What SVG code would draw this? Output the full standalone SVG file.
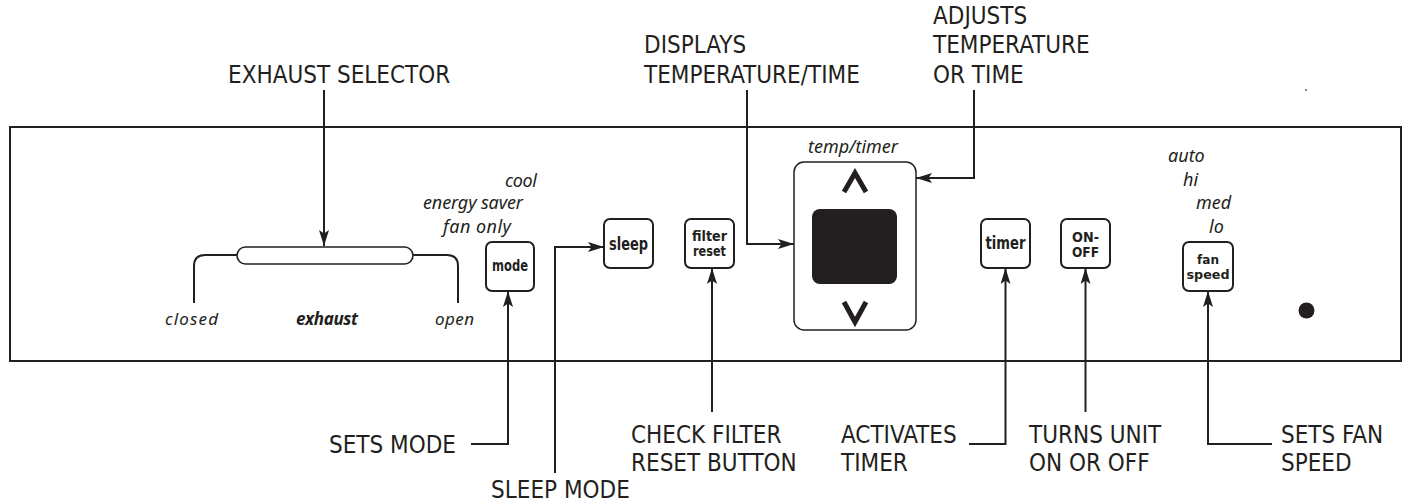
<svg xmlns="http://www.w3.org/2000/svg" width="1410" height="502" viewBox="0 0 1410 502">
<style>
.lbl{font-family:"DejaVu Sans Condensed","DejaVu Sans",sans-serif;font-size:24px;fill:#231f20}
.it{font-family:"Noto Sans","Open Sans",sans-serif;font-style:italic;fill:#231f20}
.btn{fill:#fff;stroke:#231f20;stroke-width:2}
.bt{font-family:"DejaVu Sans Condensed","DejaVu Sans",sans-serif;font-weight:bold;fill:#231f20;text-anchor:middle}
.ln{fill:none;stroke:#231f20;stroke-width:2}
.cn{fill:none;stroke:#231f20;stroke-width:2;marker-end:url(#ah)}
</style>
<defs>
<marker id="ah" viewBox="0 0 16 10" refX="16" refY="5" markerWidth="16" markerHeight="10" markerUnits="userSpaceOnUse" orient="auto">
<path d="M0,0 L16,5 L0,10 L3.5,5 z" fill="#231f20"/>
</marker>
</defs>
<rect width="1410" height="502" fill="#fff"/>
<g id="panel">
<rect x="10" y="127" width="1391" height="234" fill="none" stroke="#231f20" stroke-width="2"/>
<rect x="1305" y="89" width="2" height="2" fill="#888"/>
</g>
<g id="exhaust">
<rect x="237" y="247" width="176" height="17" rx="8.5" fill="#fff" stroke="#231f20" stroke-width="1.6"/>
<path class="ln" d="M237,255 H205 Q194,255 194,266 V303"/>
<path class="ln" d="M413,255 H447 Q458,255 458,266 V303"/>
<text class="it" x="165" y="325" font-size="17" textLength="53">closed</text>
<text class="it" x="296" y="325" font-size="17" font-weight="bold" textLength="62">exhaust</text>
<text class="it" x="435" y="325" font-size="17" textLength="39">open</text>
</g>
<g id="mode">
<text class="it" x="505" y="187" font-size="18" textLength="32">cool</text>
<text class="it" x="423" y="209" font-size="18" textLength="100">energy saver</text>
<text class="it" x="443" y="233" font-size="18" textLength="68">fan only</text>
<rect class="btn" x="486" y="242" width="48" height="49" rx="6"/>
<text class="bt" x="510" y="271" font-size="15" textLength="36" lengthAdjust="spacingAndGlyphs">mode</text>
</g>
<g id="sleep">
<rect class="btn" x="604" y="219" width="49" height="49" rx="6"/>
<text class="bt" x="628.5" y="249.5" font-size="17" textLength="39" lengthAdjust="spacingAndGlyphs">sleep</text>
</g>
<g id="filter">
<rect class="btn" x="685" y="219" width="49" height="49" rx="6"/>
<text class="bt" x="709.5" y="241" font-size="13.5" textLength="35" lengthAdjust="spacingAndGlyphs">filter</text>
<text class="bt" x="709.5" y="256" font-size="13.5" textLength="33" lengthAdjust="spacingAndGlyphs">reset</text>
</g>
<g id="display">
<text class="it" x="808" y="153" font-size="18" textLength="90">temp/timer</text>
<rect x="794" y="162" width="122" height="168" rx="10" fill="#fff" stroke="#231f20" stroke-width="1.5"/>
<rect x="812" y="209" width="85" height="75" rx="8" fill="#231f20"/>
<polyline points="844,192 855,173 866,192" fill="none" stroke="#231f20" stroke-width="5" stroke-linejoin="miter"/>
<polyline points="844,302 855,322 866,302" fill="none" stroke="#231f20" stroke-width="5" stroke-linejoin="miter"/>
</g>
<g id="timer">
<rect class="btn" x="981" y="219" width="49" height="49" rx="6"/>
<text class="bt" x="1005.5" y="249" font-size="17" textLength="40" lengthAdjust="spacingAndGlyphs">timer</text>
</g>
<g id="onoff">
<rect class="btn" x="1061" y="219" width="49" height="49" rx="6"/>
<text class="bt" x="1085.5" y="241.5" font-size="13.5" textLength="27" lengthAdjust="spacingAndGlyphs">ON-</text>
<text class="bt" x="1085.5" y="256.5" font-size="13.5" textLength="27" lengthAdjust="spacingAndGlyphs">OFF</text>
</g>
<g id="fan">
<text class="it" x="1168" y="162" font-size="18">auto</text>
<text class="it" x="1183" y="186" font-size="18">hi</text>
<text class="it" x="1196" y="209" font-size="18">med</text>
<text class="it" x="1209" y="233" font-size="18">lo</text>
<rect class="btn" x="1183" y="242" width="50" height="49" rx="6"/>
<text class="bt" x="1208" y="264" font-size="13" textLength="22" lengthAdjust="spacingAndGlyphs">fan</text>
<text class="bt" x="1208" y="278.5" font-size="13" textLength="43" lengthAdjust="spacingAndGlyphs">speed</text>
</g>
<g id="indicator">
<circle cx="1306.5" cy="310.5" r="8" fill="#231f20"/>
</g>
<g id="labels">
<text class="lbl" x="228" y="83">EXHAUST SELECTOR</text>
<text class="lbl" x="644" y="53">DISPLAYS</text>
<text class="lbl" x="644" y="83">TEMPERATURE/TIME</text>
<text class="lbl" x="933" y="24">ADJUSTS</text>
<text class="lbl" x="933" y="53">TEMPERATURE</text>
<text class="lbl" x="933" y="83">OR TIME</text>
<text class="lbl" x="329" y="453">SETS MODE</text>
<text class="lbl" x="491" y="498">SLEEP MODE</text>
<text class="lbl" x="631" y="443">CHECK FILTER</text>
<text class="lbl" x="631" y="471">RESET BUTTON</text>
<text class="lbl" x="841" y="443">ACTIVATES</text>
<text class="lbl" x="841" y="471">TIMER</text>
<text class="lbl" x="1029" y="443">TURNS UNIT</text>
<text class="lbl" x="1029" y="471">ON OR OFF</text>
<text class="lbl" x="1281" y="443">SETS FAN</text>
<text class="lbl" x="1281" y="471">SPEED</text>
</g>
<g id="connectors">
<path class="cn" d="M324,90 V246"/>
<path class="cn" d="M747,90 V244 H794"/>
<path class="cn" d="M974,90 V178 H916"/>
<path class="cn" d="M471,444 H508 V291"/>
<path class="cn" d="M555,473 V247 H604"/>
<path class="cn" d="M712,412 V268"/>
<path class="cn" d="M969,444 H1005.5 V268"/>
<path class="cn" d="M1085.5,412 V268"/>
<path class="cn" d="M1272,444 H1208 V291"/>
</g>
</svg>
